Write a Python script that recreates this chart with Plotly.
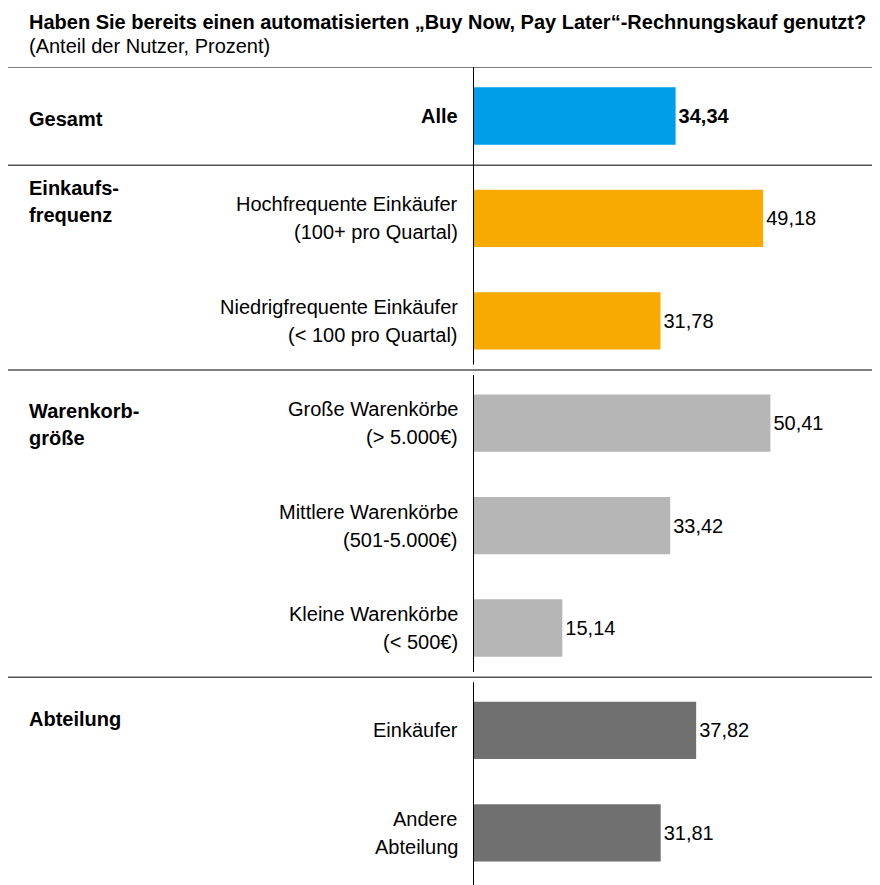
import plotly.graph_objects as go

# ---------------- data ----------------
title_text = "Haben Sie bereits einen automatisierten „Buy Now, Pay Later“-Rechnungskauf genutzt?"
subtitle_text = "(Anteil der Nutzer, Prozent)"

group_names = ["Gesamt", "Einkaufs-\nfrequenz", "Warenkorb-\ngröße", "Abteilung"]
categories = [
    "Alle",
    "Hochfrequente Einkäufer\n(100+ pro Quartal)",
    "Niedrigfrequente Einkäufer\n(< 100 pro Quartal)",
    "Große Warenkörbe\n(> 5.000€)",
    "Mittlere Warenkörbe\n(501-5.000€)",
    "Kleine Warenkörbe\n(< 500€)",
    "Einkäufer",
    "Andere\nAbteilung",
]
values = [34.34, 49.18, 31.78, 50.41, 33.42, 15.14, 37.82, 31.81]
group_of = [0, 1, 1, 2, 2, 2, 3, 3]

# ---------------- style ----------------
group_colors = ["#009EE8", "#F8AA00", "#B6B6B6", "#707070"]
FONT = "Liberation Sans, Arial, sans-serif"
FS = 20
OFF = 8                      # page body margin
W, H = 880 - OFF, 885 - OFF  # figure size
L_M, T_M = 473 - OFF, 67 - OFF
ROW0 = 116 - OFF             # centre of first bar (figure px)
ROW_PX = 102.4
LINE_PX = 28
group_label_shift = [3, -30, -12, -11]  # px, first line relative to first bar centre

n = len(values)
ypos = list(range(n))
y_top = -(ROW0 - T_M) / ROW_PX
y_bot = (n - 1) + (H - ROW0 - (n - 1) * ROW_PX) / ROW_PX

bar_colors = [group_colors[g] for g in group_of]
texts = []
for i, v in enumerate(values):
    s = f"{v:.2f}".replace(".", ",")
    texts.append(f"<b>{s}</b>" if i == 0 else s)

fig = go.Figure()
fig.add_trace(go.Bar(
    x=values, y=ypos, orientation="h",
    marker=dict(color=bar_colors, line=dict(width=0)),
    width=0.56,
    text=texts, textposition="outside",
    outsidetextfont=dict(family=FONT, size=FS, color="#000000"),
    cliponaxis=False, hoverinfo="skip",
))

annotations = []
# category labels
for i, lab in enumerate(categories):
    lines = lab.split("\n")
    m = len(lines)
    for k, ln in enumerate(lines):
        txt = f"<b>{ln}</b>" if i == 0 else ln
        annotations.append(dict(
            x=0, xref="paper", xshift=-13, xanchor="right",
            y=ypos[i], yref="y", yanchor="middle",
            yshift=-(k - (m - 1) / 2) * LINE_PX,
            text=txt, showarrow=False,
            font=dict(family=FONT, size=FS, color="#000000"),
        ))

# group labels and separators
shapes = []
first_rows = []
for g in range(len(group_names)):
    idx = [i for i, gg in enumerate(group_of) if gg == g]
    first_rows.append(idx[0])
LEFT_X = 27 - OFF - L_M
for g, name in enumerate(group_names):
    r0 = first_rows[g]
    for k, ln in enumerate(name.split("\n")):
        annotations.append(dict(
            x=0, xref="paper", xshift=LEFT_X, xanchor="left",
            y=ypos[r0], yref="y", yanchor="middle",
            yshift=-(group_label_shift[g] + k * 27),
            text=f"<b>{ln}</b>", showarrow=False,
            font=dict(family=FONT, size=FS, color="#000000"),
        ))

# separator lines: top and between groups
sep_y = [y_top] + [first_rows[g] - 0.52 for g in range(1, len(group_names))]
for sy in sep_y:
    shapes.append(dict(type="line", xref="paper", yref="y",
                       x0=(5 - OFF - L_M) / (W - L_M), x1=1, y0=sy, y1=sy,
                       line=dict(color="#555555", width=1.5)))

# vertical axis line segments
gap = 0.05
segs = [(y_top - 0.02, sep_y[2] - gap), (sep_y[2] + gap, sep_y[3] - gap), (sep_y[3] + gap, y_bot)]
for a, b in segs:
    shapes.append(dict(type="line", xref="x", yref="y", x0=0, x1=0, y0=a, y1=b,
                       line=dict(color="#000000", width=2)))

# title + subtitle
annotations.append(dict(x=0, xref="paper", xshift=LEFT_X, xanchor="left",
                        y=1 + (T_M - (22 - OFF)) / (H - T_M), yref="paper", yanchor="middle",
                        text=f"<b>{title_text}</b>", showarrow=False,
                        font=dict(family=FONT, size=FS, color="#000000")))
annotations.append(dict(x=0, xref="paper", xshift=LEFT_X, xanchor="left",
                        y=1 + (T_M - (46 - OFF)) / (H - T_M), yref="paper", yanchor="middle",
                        text=subtitle_text, showarrow=False,
                        font=dict(family=FONT, size=FS, color="#000000")))

fig.update_layout(
    width=W, height=H,
    margin=dict(l=L_M, r=0, t=T_M, b=0, pad=0),
    paper_bgcolor="white", plot_bgcolor="white",
    showlegend=False,
    separators=",.",
    xaxis=dict(range=[0, (880 - 473) / 5.9], visible=False, fixedrange=True),
    yaxis=dict(range=[y_bot, y_top], visible=False, fixedrange=True),
    annotations=annotations, shapes=shapes,
    font=dict(family=FONT, size=FS, color="#000000"),
)

fig.write_html("out.html")
